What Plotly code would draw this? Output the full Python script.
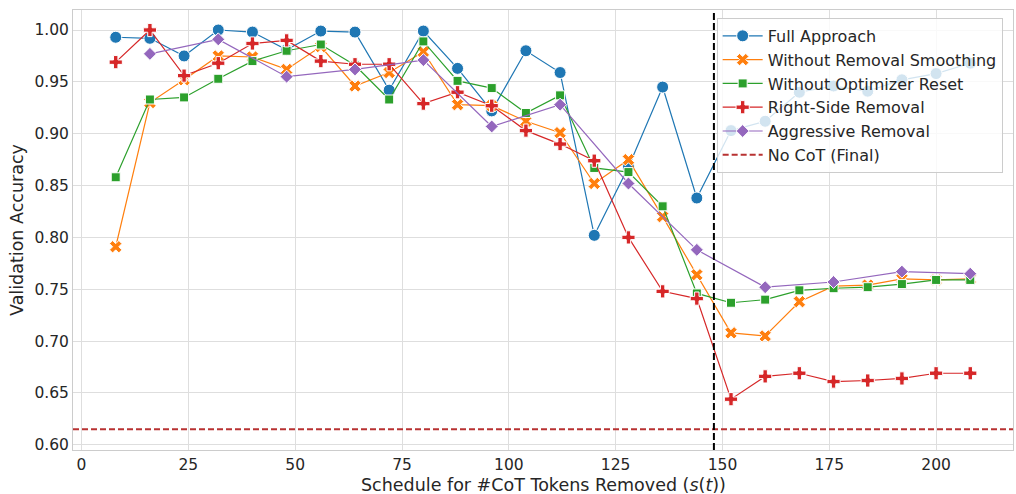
import plotly.graph_objects as go

x_full = [8, 16, 24, 32, 40, 48, 56, 64, 72, 80, 88, 96, 104, 112, 120, 128, 136, 144,
          152, 160, 168, 176, 184, 192, 200, 208]
full_approach = [0.993, 0.992, 0.975, 1.000, 0.998, 0.981, 0.999, 0.998, 0.942, 0.999,
                 0.963, 0.922, 0.980, 0.959, 0.802, 0.868, 0.945, 0.838,
                 0.903, 0.912, 0.940, 0.946, 0.941, 0.952, 0.958, 0.968]
no_smoothing = [0.791, 0.930, 0.952, 0.975, 0.974, 0.962, 0.984, 0.946, 0.959, 0.979,
                0.928, 0.927, 0.912, 0.901, 0.852, 0.875, 0.820, 0.764,
                0.708, 0.705, 0.738, 0.753, 0.754, 0.760, 0.759, 0.760]
no_opt_reset = [0.858, 0.933, 0.935, 0.953, 0.970, 0.980, 0.986, 0.966, 0.933, 0.989,
                0.951, 0.944, 0.920, 0.937, 0.867, 0.863, 0.830, 0.746,
                0.737, 0.740, 0.749, 0.751, 0.752, 0.755, 0.759, 0.759]
right_side = [0.969, 1.000, 0.956, 0.968, 0.987, 0.990, 0.970, 0.967, 0.967, 0.929,
              0.940, 0.927, 0.903, 0.890, 0.874, 0.800, 0.748, 0.741,
              0.644, 0.666, 0.669, 0.661, 0.662, 0.664, 0.669, 0.669]
x_aggr = [16, 32, 48, 64, 80, 96, 112, 128, 144, 160, 176, 192, 208]
aggressive = [0.977, 0.991, 0.955, 0.962, 0.971, 0.907, 0.928, 0.852, 0.788,
              0.752, 0.757, 0.767, 0.765]
no_cot_final = 0.615
schedule_marker = 148
x_range = [-2, 218]
y_range = [0.595, 1.0193]
x_ticks = [0, 25, 50, 75, 100, 125, 150, 175, 200]
y_ticks = [0.60, 0.65, 0.70, 0.75, 0.80, 0.85, 0.90, 0.95, 1.00]

series = [
    ("Full Approach", x_full, full_approach, "#1f77b4", "circle", 12),
    ("Without Removal Smoothing", x_full, no_smoothing, "#ff7f0e", "x", 11),
    ("Without Optimizer Reset", x_full, no_opt_reset, "#2ca02c", "square", 9),
    ("Right-Side Removal", x_full, right_side, "#d62728", "cross", 11),
    ("Aggressive Removal", x_aggr, aggressive, "#9467bd", "diamond", 10),
]

fig = go.Figure()
for name, xs, ys, color, sym, size in series:
    fig.add_trace(go.Scatter(
        x=xs, y=ys, name=name, mode="lines+markers",
        line=dict(color=color, width=1.2),
        marker=dict(symbol=sym, size=size, color=color,
                    line=dict(color="white", width=1)),
    ))

fig.add_trace(go.Scatter(
    x=x_range, y=[no_cot_final, no_cot_final], name="No CoT (Final)", mode="lines",
    line=dict(color="#b83232", width=2, dash="6px,3px"),
))

fig.add_shape(type="line", xref="x", yref="paper", x0=schedule_marker, x1=schedule_marker,
              y0=0, y1=1, line=dict(color="black", width=2, dash="7px,3px"))

axis_common = dict(
    showgrid=True, gridcolor="#dedede", gridwidth=1,
    showline=True, linecolor="#cccccc", linewidth=1, mirror=True,
    zeroline=False, ticks="", ticklen=0, automargin=False,
    tickfont=dict(size=15.5, color="#262626"),
)
fig.update_xaxes(range=x_range, tickvals=x_ticks, **axis_common)
fig.update_yaxes(range=y_range, tickvals=y_ticks, tickformat=".2f", **axis_common)

fig.add_annotation(text="Schedule for #CoT Tokens Removed (<i>s</i>(<i>t</i>))",
                   xref="paper", yref="paper", x=0.5, y=-0.052, xanchor="center",
                   yanchor="top", showarrow=False,
                   font=dict(size=17.5, color="#262626"))
fig.add_annotation(text="Validation Accuracy", textangle=-90,
                   xref="paper", yref="paper", x=-0.0596, y=0.5, xanchor="center",
                   yanchor="middle", showarrow=False,
                   font=dict(size=17.5, color="#262626"))

fig.update_layout(
    width=1016, height=494,
    margin=dict(l=73, r=3, t=10, b=44),
    plot_bgcolor="white", paper_bgcolor="white",
    font=dict(family="DejaVu Sans", size=16, color="#262626"),
    legend=dict(x=0.989, xanchor="right", y=0.982, yanchor="top",
                bgcolor="rgba(255,255,255,0.8)", bordercolor="#cccccc", borderwidth=1,
                font=dict(size=16, color="#262626"), tracegroupgap=0,
                itemwidth=40),
    showlegend=True,
)

fig.write_html("out.html", config={"displayModeBar": False},
               post_script="document.body.style.margin='0';document.body.style.padding='0';")
